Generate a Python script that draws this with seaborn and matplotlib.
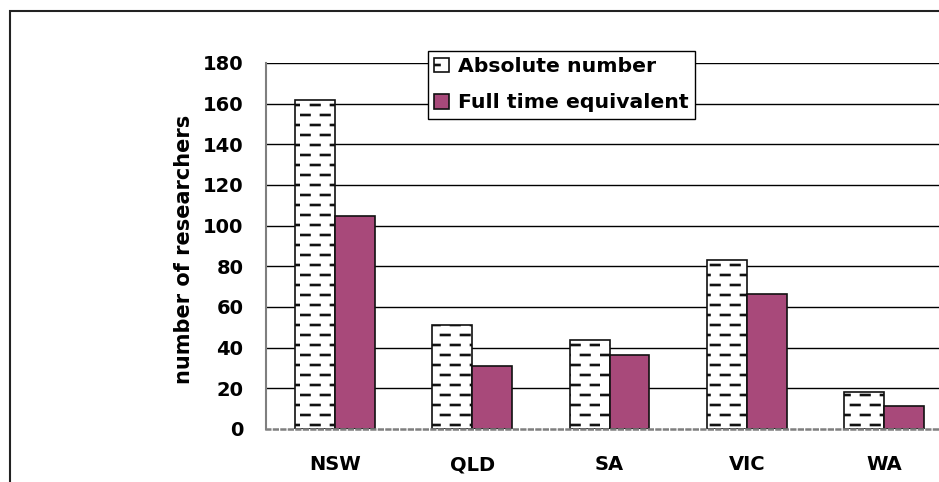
import numpy as np
import pandas as pd
import matplotlib
matplotlib.use("Agg")
import matplotlib.pyplot as plt
import seaborn as sns
from matplotlib import hatch as mhatch
from matplotlib.path import Path
from matplotlib.patches import Rectangle

# ---- data ----
regions = ["NSW", "QLD", "SA", "VIC", "WA"]
absolute_number = [162, 51, 44, 83, 18]
full_time_equiv = [104.8, 31.1, 36.4, 66.4, 11.5]
series_names = ["Absolute number", "Full time equivalent"]
y_ticks = [0, 20, 40, 60, 80, 100, 120, 140, 160, 180]
y_label = "number of researchers"


# ---- custom staggered-dash hatch (replaces the '-' hatch) ----
class DashHatch(mhatch.HatchPatternBase):
    nrows = 10
    ncols = 5
    dash = 0.085

    def __init__(self, hatch, density):
        self.on = ("-" in hatch)
        self.num_vertices = self.nrows * self.ncols * 2 if self.on else 0

    def set_vertices_and_codes(self, vertices, codes):
        i = 0
        for k in range(self.nrows):
            y = (k + 0.5) / self.nrows
            shift = 0.5 if k % 2 else 0.0
            for j in range(self.ncols):
                x0 = (j + shift + 0.05) / self.ncols
                vertices[i] = (x0, y)
                vertices[i + 1] = (x0 + self.dash, y)
                codes[i] = Path.MOVETO
                codes[i + 1] = Path.LINETO
                i += 2


mhatch._hatch_types[0] = DashHatch

sns.set_theme(style="white")
plt.rcParams["font.family"] = ["DejaVu Sans"]
plt.rcParams["font.weight"] = "bold"
plt.rcParams["hatch.linewidth"] = 1.9
plt.rcParams["text.color"] = "black"
plt.rcParams["axes.labelcolor"] = "black"
plt.rcParams["xtick.color"] = "black"
plt.rcParams["ytick.color"] = "black"

df = pd.DataFrame({
    "region": regions * 2,
    "value": absolute_number + full_time_equiv,
    "series": [series_names[0]] * len(regions) + [series_names[1]] * len(regions),
})

fig = plt.figure(figsize=(9.39, 4.82), dpi=100)
ax = fig.add_axes([0.2837, 0.1100, 0.7308, 0.7593])

sns.barplot(data=df, x="region", y="value", hue="series", hue_order=series_names,
            palette=["white", "#A8497A"], width=0.58, gap=0, saturation=1,
            edgecolor="#111111", linewidth=1.2, legend=False, ax=ax)

for p in ax.containers[0].patches:
    p.set_hatch("-")

ax.set_xlim(-0.5, 4.5)
ax.set_ylim(0, 180)
ax.set_yticks(y_ticks)
ax.set_yticklabels([str(t) for t in y_ticks])
ax.set_xlabel("")
ax.set_ylabel(y_label, fontsize=15, fontweight="bold", color="black")
ax.yaxis.set_label_coords(-0.106, 0.49)

ax.tick_params(axis="y", length=0, pad=16.5, labelsize=14, labelcolor="black")
ax.tick_params(axis="x", length=0, pad=19, labelsize=14, labelcolor="black")
for lab in ax.get_xticklabels() + ax.get_yticklabels():
    lab.set_fontweight("bold")

ax.set_axisbelow(True)
ax.yaxis.grid(True, color="#000000", linewidth=1.0)
ax.xaxis.grid(False)
ax.yaxis.get_major_ticks()[0].gridline.set_visible(False)

for s in ["top", "right"]:
    ax.spines[s].set_visible(False)
ax.spines["left"].set_color("#7f7f7f")
ax.spines["left"].set_linewidth(1.5)
ax.spines["bottom"].set_color("#7f7f7f")
ax.spines["bottom"].set_linewidth(1.8)
ax.spines["bottom"].set_linestyle((0, (1.5, 1.5)))

leg = ax.legend(handles=list(ax.containers), labels=series_names,
                loc="upper left", bbox_to_anchor=(0.2355, 1.033),
                borderaxespad=0, fancybox=False, framealpha=1,
                edgecolor="black", handlelength=0.72,
                handleheight=0.72, handletextpad=0.45, borderpad=0.3,
                labelspacing=0.85, prop={"weight": "bold", "size": 14.7})
leg.get_frame().set_linewidth(1.0)
for t in leg.get_texts():
    t.set_color("black")

# outer chart-area frame
fig.patches.append(Rectangle((9.5 / 939, -0.2), 1.2, 1.2 - 10.5 / 482,
                             transform=fig.transFigure, fill=False,
                             edgecolor="#222222", linewidth=1.5, clip_on=False))

fig.savefig("out.png", dpi=100)
